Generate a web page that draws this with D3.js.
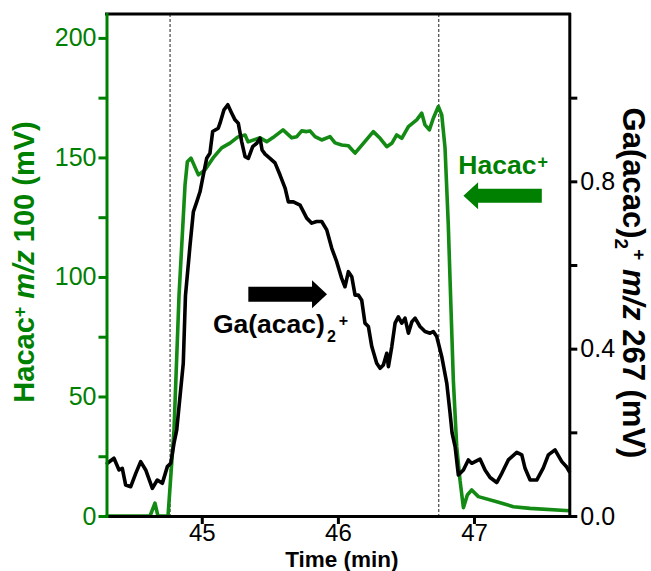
<!DOCTYPE html>
<html>
<head>
<meta charset="utf-8">
<script src="https://cdn.jsdelivr.net/npm/d3@7"></script>
<style>
  body { margin: 0; background: #fff; }
  svg { display: block; }
  text { font-family: "Liberation Sans", Arial, Helvetica, sans-serif; }
</style>
</head>
<body>
<svg id="chart" width="651" height="571"></svg>
<script>
// Hacac+ (m/z 100) signal, left axis, mV
const hacacTime = [44.300, 44.620, 44.656, 44.678, 44.752, 44.796, 44.833, 44.877, 44.894, 44.921,
  44.975, 45.024, 45.083, 45.146, 45.207, 45.266, 45.318, 45.340, 45.428, 45.477,
  45.523, 45.597, 45.661, 45.698, 45.734, 45.771, 45.795, 45.832, 45.881, 45.942,
  45.979, 46.028, 46.077, 46.126, 46.187, 46.260, 46.310, 46.359, 46.396, 46.432,
  46.469, 46.518, 46.579, 46.616, 46.640, 46.672, 46.701, 46.738, 46.763, 46.787,
  46.811, 46.824, 46.848, 46.873, 46.897, 46.922, 46.951, 46.983, 47.032, 47.167,
  47.289, 47.412, 47.700];
const hacacSignal = [0, 0, 5.4, 0, 0, 36, 92.5, 138.5, 148.2, 149.7,
  142.7, 144.8, 149.8, 154, 156, 158.6, 159.4, 156.5, 158.2, 156.6,
  158.3, 161.5, 158.2, 158.7, 161.1, 160.8, 161.1, 158.7, 157.3, 158.7,
  156.1, 155.2, 154.9, 151.8, 155.9, 160.8, 158, 154.5, 155.9, 159.4,
  158, 162.9, 165.7, 168.5, 163.6, 161.5, 166.4, 171.3, 167.8, 154,
  121.8, 98.7, 56.9, 29, 15, 3.5, 8.8, 10.9, 8.1, 6,
  3.9, 3.2, 2.2];

// Ga(acac)2+ (m/z 267) signal, right axis, mV
const gaTime = [44.306, 44.355, 44.392, 44.416, 44.441, 44.478, 44.515, 44.551, 44.588, 44.637,
  44.673, 44.710, 44.747, 44.772, 44.796, 44.816, 44.864, 44.880, 44.914, 44.938,
  44.963, 44.987, 45.011, 45.036, 45.060, 45.080, 45.121, 45.134, 45.163, 45.191,
  45.220, 45.244, 45.268, 45.293, 45.318, 45.342, 45.374, 45.404, 45.428, 45.443,
  45.465, 45.501, 45.538, 45.575, 45.612, 45.636, 45.673, 45.722, 45.771, 45.808,
  45.844, 45.881, 45.918, 45.955, 45.991, 46.028, 46.052, 46.077, 46.102, 46.126,
  46.150, 46.175, 46.199, 46.224, 46.249, 46.285, 46.310, 46.334, 46.359, 46.371,
  46.396, 46.420, 46.444, 46.469, 46.493, 46.518, 46.543, 46.567, 46.603, 46.640,
  46.677, 46.701, 46.726, 46.763, 46.800, 46.824, 46.839, 46.861, 46.885, 46.922,
  46.958, 46.983, 47.044, 47.081, 47.118, 47.167, 47.204, 47.252, 47.314, 47.351,
  47.375, 47.412, 47.461, 47.509, 47.546, 47.595, 47.645, 47.681, 47.700];
const gaSignal = [0.126, 0.138, 0.110, 0.114, 0.074, 0.070, 0.102, 0.130, 0.110, 0.066,
  0.086, 0.078, 0.118, 0.126, 0.174, 0.206, 0.365, 0.526, 0.648, 0.727,
  0.751, 0.775, 0.815, 0.855, 0.867, 0.919, 0.927, 0.939, 0.971, 0.983,
  0.963, 0.947, 0.939, 0.895, 0.859, 0.855, 0.883, 0.891, 0.903, 0.875,
  0.865, 0.855, 0.844, 0.815, 0.784, 0.751, 0.751, 0.743, 0.712, 0.700,
  0.704, 0.704, 0.684, 0.640, 0.608, 0.568, 0.548, 0.584, 0.572, 0.528,
  0.528, 0.516, 0.461, 0.453, 0.405, 0.365, 0.353, 0.361, 0.389, 0.357,
  0.405, 0.461, 0.476, 0.461, 0.473, 0.437, 0.464, 0.473, 0.453, 0.441,
  0.437, 0.441, 0.429, 0.381, 0.317, 0.246, 0.198, 0.166, 0.098, 0.110,
  0.134, 0.126, 0.136, 0.110, 0.092, 0.080, 0.102, 0.134, 0.152, 0.146,
  0.114, 0.086, 0.086, 0.115, 0.146, 0.158, 0.130, 0.117, 0.106];

// axes
const timeDomain = [44.3, 47.7];
const timeTicks = [45, 46, 47];
const hacacDomain = [0, 210];
const hacacTicks = [0, 25, 50, 75, 100, 125, 150, 175, 200];
const hacacLabelled = [0, 50, 100, 150, 200];
const gaDomain = [0, 1.2];
const gaTicks = [0, 0.2, 0.4, 0.6, 0.8, 1.0];
const gaLabelled = [0, 0.4, 0.8];

// dashed markers (min)
const markerTimes = [44.767, 46.741];

// arrows: [start time, head base time, tip time, level]
const gaArrow = [45.342, 45.810, 45.920, 0.53];
const hacacArrow = [47.498, 47.030, 46.922, 134];
// label anchors: [time, level]
const gaLabelAt = [45.082, 0.4375];
const hacacLabelAt = [46.885, 143.1];

const GREEN = "#008000";
const LINE_GREEN = "#138a13";

const svg = d3.select("#chart");
svg.append("rect").attr("width", 651).attr("height", 571).attr("fill", "#fff");

const x = d3.scaleLinear().domain(timeDomain).range([106.5, 569.3]);
const yL = d3.scaleLinear().domain(hacacDomain).range([516, 14]);
const yR = d3.scaleLinear().domain(gaDomain).range([516, 14]);

// dashed markers
svg.append("g").selectAll("line").data(markerTimes).join("line")
  .attr("x1", d => x(d)).attr("x2", d => x(d))
  .attr("y1", yL(hacacDomain[1])).attr("y2", yL(0))
  .attr("stroke", "#333").attr("stroke-width", 1.1)
  .attr("stroke-dasharray", "3,2");

// traces
const hacacPts = hacacTime.map((t, i) => [t, hacacSignal[i]]);
const gaPts = gaTime.map((t, i) => [t, gaSignal[i]]);

svg.append("path").datum(hacacPts)
  .attr("fill", "none").attr("stroke", LINE_GREEN).attr("stroke-width", 3.6)
  .attr("stroke-linejoin", "round").attr("stroke-linecap", "round")
  .attr("d", d3.line().x(d => x(d[0])).y(d => yL(d[1])));

svg.append("path").datum(gaPts)
  .attr("fill", "none").attr("stroke", "#000").attr("stroke-width", 3.6)
  .attr("stroke-linejoin", "round").attr("stroke-linecap", "round")
  .attr("d", d3.line().x(d => x(d[0])).y(d => yR(d[1])));

// frame top
svg.append("line")
  .attr("x1", x(timeDomain[0])).attr("x2", x(timeDomain[1]))
  .attr("y1", yL(hacacDomain[1])).attr("y2", yL(hacacDomain[1]))
  .attr("stroke", "#000").attr("stroke-width", 3).attr("stroke-linecap", "square");

// bottom axis
const gx = svg.append("g").attr("transform", `translate(0,${yL(0)})`)
  .call(d3.axisBottom(x).tickValues(timeTicks).tickSize(8).tickSizeOuter(0).tickPadding(0).tickFormat(d3.format("d")));
gx.select(".domain").attr("stroke", "#000").attr("stroke-width", 3).attr("stroke-linecap", "square");
gx.selectAll(".tick line").attr("stroke", "#000").attr("stroke-width", 3);
gx.selectAll(".tick text").attr("font-size", 24).attr("fill", "#000")
  .style("font-family", '"Liberation Sans", Arial, sans-serif');

// left axis
const gl = svg.append("g").attr("transform", `translate(${x(timeDomain[0])},0)`)
  .call(d3.axisLeft(yL).tickValues(hacacTicks).tickSize(8).tickSizeOuter(0).tickPadding(2)
    .tickFormat(d => hacacLabelled.includes(d) ? d3.format("d")(d) : ""));
gl.select(".domain").attr("stroke", GREEN).attr("stroke-width", 3).attr("stroke-linecap", "square");
gl.selectAll(".tick line").attr("stroke", GREEN).attr("stroke-width", 3);
gl.selectAll(".tick text").attr("font-size", 25).attr("fill", GREEN)
  .style("font-family", '"Liberation Sans", Arial, sans-serif');

// right axis
const gr = svg.append("g").attr("transform", `translate(${x(timeDomain[1])},0)`)
  .call(d3.axisRight(yR).tickValues(gaTicks).tickSize(8).tickSizeOuter(0).tickPadding(3)
    .tickFormat(d => gaLabelled.some(v => Math.abs(v - d) < 1e-9) ? d3.format(".1f")(d) : ""));
gr.select(".domain").attr("stroke", "#000").attr("stroke-width", 3).attr("stroke-linecap", "square");
gr.selectAll(".tick line").attr("stroke", "#000").attr("stroke-width", 3);
gr.selectAll(".tick text").attr("font-size", 25).attr("fill", "#000")
  .style("font-family", '"Liberation Sans", Arial, sans-serif');

// axis titles
svg.append("text")
  .attr("x", (x.range()[0] + x.range()[1]) / 2 + 4).attr("y", 566.5)
  .attr("text-anchor", "middle").attr("font-size", 22.5).attr("font-weight", "bold")
  .text("Time (min)");

const leftTitle = svg.append("text")
  .attr("transform", `translate(34,262) rotate(-90)`)
  .attr("text-anchor", "middle").attr("font-size", 29).attr("font-weight", "bold").attr("fill", GREEN);
leftTitle.append("tspan").text("Hacac");
leftTitle.append("tspan").attr("font-size", 18).attr("baseline-shift", 8).text("+");
leftTitle.append("tspan").text(" ");
leftTitle.append("tspan").attr("font-style", "italic").text("m/z");
leftTitle.append("tspan").text(" 100 (mV)");

const rightTitle = svg.append("text")
  .attr("transform", `translate(623,283) rotate(90)`)
  .attr("text-anchor", "middle").attr("font-size", 31).attr("font-weight", "bold").attr("fill", "#000");
rightTitle.append("tspan").text("Ga(acac)");
rightTitle.append("tspan").attr("font-size", 19).attr("baseline-shift", -8).text("2");
rightTitle.append("tspan").attr("font-size", 19).attr("baseline-shift", 10).text("+");
rightTitle.append("tspan").text(" ");
rightTitle.append("tspan").attr("font-style", "italic").text("m/z");
rightTitle.append("tspan").text(" 267 (mV)");

// arrows
function arrowPath(a, yScale, bodyHalf, headHalf) {
  const x0 = x(a[0]), xb = x(a[1]), xt = x(a[2]), yc = yScale(a[3]);
  return d3.line()([
    [x0, yc - bodyHalf], [xb, yc - bodyHalf], [xb, yc - headHalf], [xt, yc],
    [xb, yc + headHalf], [xb, yc + bodyHalf], [x0, yc + bodyHalf]
  ]) + "Z";
}
svg.append("path").attr("d", arrowPath(gaArrow, yR, 7.5, 14)).attr("fill", "#000");
svg.append("path").attr("d", arrowPath(hacacArrow, yL, 7, 13.5)).attr("fill", GREEN);

// trace labels
const gaLabel = svg.append("text")
  .attr("x", x(gaLabelAt[0])).attr("y", yR(gaLabelAt[1]))
  .attr("font-size", 26.5).attr("font-weight", "bold").attr("fill", "#000");
gaLabel.append("tspan").text("Ga(acac)");
gaLabel.append("tspan").attr("font-size", 16).attr("dx", 2).attr("baseline-shift", -9).text("2");
gaLabel.append("tspan").attr("font-size", 16).attr("dx", 3).attr("baseline-shift", 7).text("+");

const hacacLabel = svg.append("text")
  .attr("x", x(hacacLabelAt[0])).attr("y", yL(hacacLabelAt[1]))
  .attr("font-size", 26.5).attr("font-weight", "bold").attr("fill", GREEN);
hacacLabel.append("tspan").text("Hacac");
hacacLabel.append("tspan").attr("font-size", 18).attr("dx", 1).attr("baseline-shift", 6).text("+");
</script>
</body>
</html>
